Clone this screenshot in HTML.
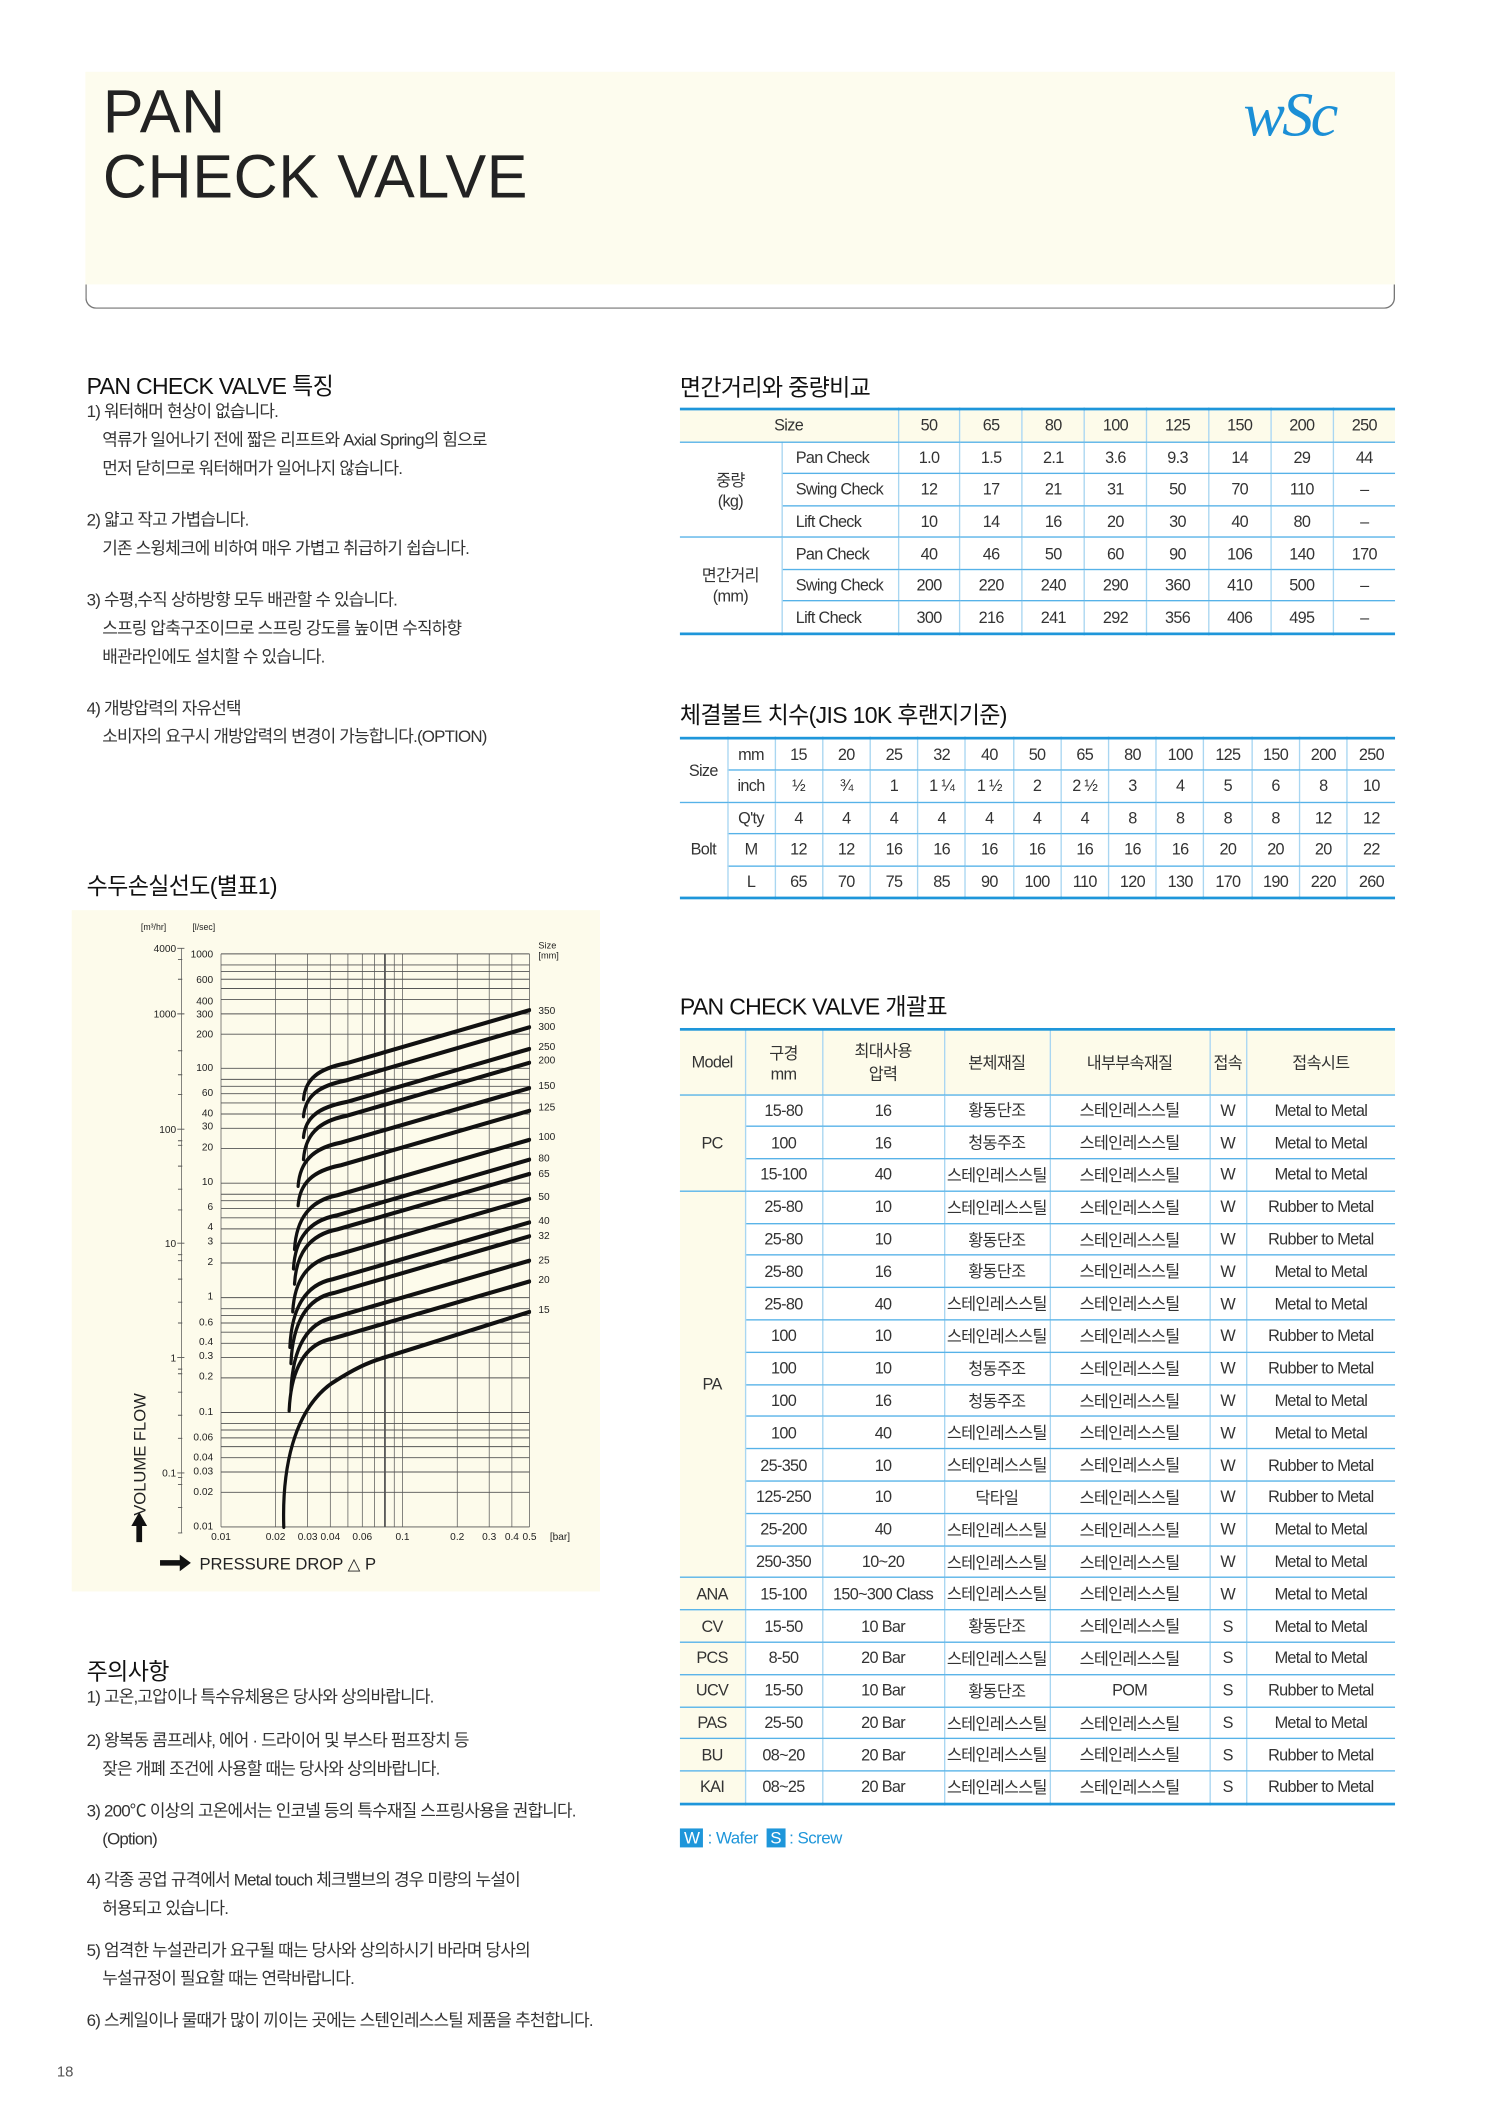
<!DOCTYPE html>
<html><head><meta charset="utf-8">
<style>
*{margin:0;padding:0;box-sizing:border-box}
html,body{width:1500px;height:2122px;background:#fff;overflow:hidden}
#w{position:absolute;left:0;top:0;width:1108px;height:1567px;transform:scale(1.3544);transform-origin:0 0;font-family:"Liberation Sans","Noto Sans CJK KR",sans-serif;color:#222}
.a{position:absolute;white-space:nowrap}
.h2{font-size:17px;color:#111;letter-spacing:-0.5px}
.p{font-size:12.5px;color:#333;letter-spacing:-0.6px;line-height:21px}
table.t{position:absolute;border-collapse:collapse;table-layout:fixed;font-size:12px;color:#333;text-align:center;letter-spacing:-0.5px;border-top:2.5px solid #1e96da;border-bottom:2.5px solid #1e96da}
.t td{border-top:1px solid #56b2e8;border-bottom:1px solid #56b2e8;border-left:1px solid #a9d6f1;border-right:1px solid #a9d6f1;padding:0;overflow:hidden;white-space:nowrap}
.t td.f{border-left:none}
.t td.l{border-right:none}
.t .c{background:#fdfbea}
.t td.s{text-align:left;padding-left:10px}
</style></head><body><div id="w">

<!-- header -->
<div class="a" style="left:63px;top:53px;width:967px;height:157px;background:#fdfcee"></div>
<div class="a" style="left:63px;top:210px;width:967px;height:18px;border:1px solid #777;border-top:none;border-radius:0 0 8px 8px"></div>
<div class="a" style="left:76px;top:59px;font-size:45px;line-height:48px;color:#222;letter-spacing:0.5px">PAN<br>CHECK VALVE</div>
<div class="a" style="left:918px;top:58px;font-family:'Liberation Serif',serif;font-style:italic;font-size:46px;color:#1b8fd6;letter-spacing:-2px">wSc</div>

<!-- left text -->
<div class="a h2" style="left:64px;top:271px">PAN CHECK VALVE 특징</div>
<div class="a p" style="left:64px;top:294px">1) 워터해머 현상이 없습니다.<br>&nbsp;&nbsp;&nbsp;&nbsp;역류가 일어나기 전에 짧은 리프트와 Axial Spring의 힘으로<br>&nbsp;&nbsp;&nbsp;&nbsp;먼저 닫히므로 워터해머가 일어나지 않습니다.</div>
<div class="a p" style="left:64px;top:374px">2) 얇고 작고 가볍습니다.<br>&nbsp;&nbsp;&nbsp;&nbsp;기존 스윙체크에 비하여 매우 가볍고 취급하기 쉽습니다.</div>
<div class="a p" style="left:64px;top:433px">3) 수평,수직 상하방향 모두 배관할 수 있습니다.<br>&nbsp;&nbsp;&nbsp;&nbsp;스프링 압축구조이므로 스프링 강도를 높이면 수직하향<br>&nbsp;&nbsp;&nbsp;&nbsp;배관라인에도 설치할 수 있습니다.</div>
<div class="a p" style="left:64px;top:513px">4) 개방압력의 자유선택<br>&nbsp;&nbsp;&nbsp;&nbsp;소비자의 요구시 개방압력의 변경이 가능합니다.(OPTION)</div>
<div class="a h2" style="left:64px;top:640px">수두손실선도(별표1)</div>

<!-- chart -->
<div class="a" style="left:53px;top:672px;width:390px;height:503px;background:#fdfbeb"></div>
<svg class="a" style="left:44px;top:660px" width="410.5" height="528" viewBox="0 0 1550 1550" preserveAspectRatio="none">
<g fill="none" stroke="#555" stroke-width="2">
<path d="M450,130H1310M450,154H1310M450,168H1310M450,185H1310M450,205H1310M450,229H1310M450,260H1310M450,304H1310M450,378H1310M450,402H1310M450,417H1310M450,433H1310M450,453H1310M450,477H1310M450,508H1310M450,552H1310M450,627H1310M450,651H1310M450,665H1310M450,682H1310M450,702H1310M450,726H1310M450,757H1310M450,800H1310M450,875H1310M450,899H1310M450,914H1310M450,930H1310M450,950H1310M450,974H1310M450,1005H1310M450,1049H1310M450,1124H1310M450,1148H1310M450,1162H1310M450,1179H1310M450,1198H1310M450,1222H1310M450,1253H1310M450,1297H1310M450,1372H1310"/>
<path d="M450,130V1372M602,130V1372M691.5,130V1372M754.7,130V1372M803.8,130V1372M843.9,130V1372M877.8,130V1372M933,130V1372M956,130V1372M1108.6,130V1372M1197.7,130V1372M1260.9,130V1372M1310,130V1372"/>
<path d="M907,130V1372" stroke-width="5"/>
<path d="M340,118V1385M328,118H348M328,260H348M328,510H348M328,757H348M328,1005H348M328,1255H348M330,142H342M330,185H342M330,340H342M330,392H342M330,435H342M330,535H342M330,545H342M330,590H342M330,640H342M330,685H342M330,782H342M330,795H342M330,835H342M330,885H342M330,930H342M330,1030H342M330,1040H342M330,1080H342M330,1130H342M330,1180H342M330,1265H342M330,1280H342M330,1330H342M330,1385H342"/>
</g>
<g fill="none" stroke="#111" stroke-width="9" stroke-linecap="round">
<path d="M680,445 C685,402 720,379 800,367 L1310,252"/>
<path d="M680,482 C685,439 720,416 800,404 L1310,289"/>
<path d="M680,527 C685,485 720,463 800,451 L1310,336"/>
<path d="M680,575 C685,523 720,493 800,481 L1310,366"/>
<path d="M665,633 C670,581 705,551 785,539 L1310,421"/>
<path d="M665,675 C670,627 705,600 785,588 L1310,470"/>
<path d="M655,770 C660,706 695,665 775,653 L1310,533"/>
<path d="M652,812 C657,749 692,709 772,697 L1310,576"/>
<path d="M655,845 C660,780 695,739 775,727 L1310,607"/>
<path d="M650,905 C655,838 690,795 770,783 L1310,661"/>
<path d="M642,982 C647,901 682,847 762,835 L1310,712"/>
<path d="M645,1017 C650,933 685,877 765,865 L1310,742"/>
<path d="M645,1077 C650,990 685,930 765,918 L1310,795"/>
<path d="M640,1120 C645,1034 680,976 760,964 L1310,840"/>
<path d="M625,1372 C620,1250 650,1120 760,1060 C820,1030 860,1015 905,1005 L1310,906"/>
</g>
<polygon points="222,1340 200,1370 214,1370 214,1405 230,1405 230,1370 244,1370" fill="#111"/>
<polygon points="280,1444 335,1444 335,1432 366,1450 335,1468 335,1456 280,1456" fill="#111"/>
<g transform="scale(1.286 1)" font-family="Liberation Sans,sans-serif" font-size="22" fill="#222">
<g text-anchor="end">
<text x="332.8" y="138">1000</text><text x="332.8" y="193">600</text><text x="332.8" y="240">400</text><text x="332.8" y="268">300</text><text x="332.8" y="311">200</text><text x="332.8" y="384">100</text><text x="332.8" y="438">60</text><text x="332.8" y="482">40</text><text x="332.8" y="511">30</text><text x="332.8" y="556">20</text><text x="332.8" y="631">10</text><text x="332.8" y="685">6</text><text x="332.8" y="728">4</text><text x="332.8" y="760">3</text><text x="332.8" y="804">2</text><text x="332.8" y="879">1</text><text x="332.8" y="935">0.6</text><text x="332.8" y="978">0.4</text><text x="332.8" y="1008">0.3</text><text x="332.8" y="1052">0.2</text><text x="332.8" y="1130">0.1</text><text x="332.8" y="1185">0.06</text><text x="332.8" y="1228">0.04</text><text x="332.8" y="1258">0.03</text><text x="332.8" y="1303">0.02</text><text x="332.8" y="1378">0.01</text>
<text x="252.7" y="126">4000</text><text x="252.7" y="268">1000</text><text x="252.7" y="518">100</text><text x="252.7" y="765">10</text><text x="252.7" y="1013">1</text><text x="252.7" y="1263">0.1</text>
</g>
<text x="203.7" y="78" text-anchor="middle" font-size="19">[m³/hr]</text>
<text x="312.6" y="78" text-anchor="middle" font-size="19">[l/sec]</text>
<g>
<text x="1038" y="118" font-size="20">Size</text><text x="1038" y="140" font-size="20">[mm]</text>
<text x="1038" y="260">350</text><text x="1038" y="295">300</text><text x="1038" y="338">250</text><text x="1038" y="368">200</text><text x="1038" y="423">150</text><text x="1038" y="470">125</text><text x="1038" y="533">100</text><text x="1038" y="580">80</text><text x="1038" y="614">65</text><text x="1038" y="663">50</text><text x="1038" y="716">40</text><text x="1038" y="748">32</text><text x="1038" y="801">25</text><text x="1038" y="843">20</text><text x="1038" y="908">15</text>
</g>
<g text-anchor="middle">
<text x="350" y="1400">0.01</text><text x="468.2" y="1400">0.02</text><text x="537.7" y="1400">0.03</text><text x="586.9" y="1400">0.04</text><text x="656.2" y="1400">0.06</text><text x="743.4" y="1400">0.1</text><text x="862" y="1400">0.2</text><text x="931.3" y="1400">0.3</text><text x="980.5" y="1400">0.4</text><text x="1018.7" y="1400">0.5</text><text x="1084.8" y="1400">[bar]</text>
</g>
<text x="303.3" y="1464" font-size="36">PRESSURE DROP △ P</text>
<text transform="translate(186,1215) rotate(-90)" text-anchor="middle" font-size="36">VOLUME FLOW</text>
</g>
</svg>

<!-- cautions -->
<div class="a h2" style="left:64px;top:1220px">주의사항</div>
<div class="a p" style="left:64px;top:1243px">1) 고온,고압이나 특수유체용은 당사와 상의바랍니다.</div>
<div class="a p" style="left:64px;top:1275px">2) 왕복동 콤프레샤, 에어 · 드라이어 및 부스타 펌프장치 등<br>&nbsp;&nbsp;&nbsp;&nbsp;잦은 개폐 조건에 사용할 때는 당사와 상의바랍니다.</div>
<div class="a p" style="left:64px;top:1327px">3) 200℃ 이상의 고온에서는 인코넬 등의 특수재질 스프링사용을 권합니다.<br>&nbsp;&nbsp;&nbsp;&nbsp;(Option)</div>
<div class="a p" style="left:64px;top:1378px">4) 각종 공업 규격에서 Metal touch 체크밸브의 경우 미량의 누설이<br>&nbsp;&nbsp;&nbsp;&nbsp;허용되고 있습니다.</div>
<div class="a p" style="left:64px;top:1430px">5) 엄격한 누설관리가 요구될 때는 당사와 상의하시기 바라며 당사의<br>&nbsp;&nbsp;&nbsp;&nbsp;누설규정이 필요할 때는 연락바랍니다.</div>
<div class="a p" style="left:64px;top:1482px">6) 스케일이나 물때가 많이 끼이는 곳에는 스텐인레스스틸 제품을 추천합니다.</div>
<div class="a" style="left:42px;top:1524px;font-size:11px;color:#555">18</div>

<!-- table 1 -->
<div class="a h2" style="left:502px;top:272px">면간거리와 중량비교</div>
<table class="t" style="left:502px;top:301px;width:528px">
<colgroup><col style="width:75px"><col style="width:86px"><col span="8" style="width:45.875px"></colgroup>
<tr style="height:24px" class="c"><td class="f c" colspan="2">Size</td><td>50</td><td>65</td><td>80</td><td>100</td><td>125</td><td>150</td><td>200</td><td class="l">250</td></tr>
<tr style="height:23.6px"><td class="f" rowspan="3">중량<br>(kg)</td><td class="s">Pan Check</td><td>1.0</td><td>1.5</td><td>2.1</td><td>3.6</td><td>9.3</td><td>14</td><td>29</td><td class="l">44</td></tr>
<tr style="height:23.6px"><td class="s">Swing Check</td><td>12</td><td>17</td><td>21</td><td>31</td><td>50</td><td>70</td><td>110</td><td class="l">–</td></tr>
<tr style="height:23.6px"><td class="s">Lift Check</td><td>10</td><td>14</td><td>16</td><td>20</td><td>30</td><td>40</td><td>80</td><td class="l">–</td></tr>
<tr style="height:23.6px"><td class="f" rowspan="3">면간거리<br>(mm)</td><td class="s">Pan Check</td><td>40</td><td>46</td><td>50</td><td>60</td><td>90</td><td>106</td><td>140</td><td class="l">170</td></tr>
<tr style="height:23.6px"><td class="s">Swing Check</td><td>200</td><td>220</td><td>240</td><td>290</td><td>360</td><td>410</td><td>500</td><td class="l">–</td></tr>
<tr style="height:23.6px"><td class="s">Lift Check</td><td>300</td><td>216</td><td>241</td><td>292</td><td>356</td><td>406</td><td>495</td><td class="l">–</td></tr>
</table>

<!-- table 2 -->
<div class="a h2" style="left:502px;top:514px">체결볼트 치수(JIS 10K 후랜지기준)</div>
<table class="t" style="left:502px;top:544px;width:528px">
<colgroup><col style="width:35px"><col style="width:35px"><col span="13" style="width:35.23px"></colgroup>
<tr style="height:23.5px"><td class="f" rowspan="2">Size</td><td>mm</td><td>15</td><td>20</td><td>25</td><td>32</td><td>40</td><td>50</td><td>65</td><td>80</td><td>100</td><td>125</td><td>150</td><td>200</td><td class="l">250</td></tr>
<tr style="height:23.5px"><td>inch</td><td>½</td><td>¾</td><td>1</td><td>1 ¼</td><td>1 ½</td><td>2</td><td>2 ½</td><td>3</td><td>4</td><td>5</td><td>6</td><td>8</td><td class="l">10</td></tr>
<tr style="height:23.5px"><td class="f" rowspan="3">Bolt</td><td>Q'ty</td><td>4</td><td>4</td><td>4</td><td>4</td><td>4</td><td>4</td><td>4</td><td>8</td><td>8</td><td>8</td><td>8</td><td>12</td><td class="l">12</td></tr>
<tr style="height:23.5px"><td>M</td><td>12</td><td>12</td><td>16</td><td>16</td><td>16</td><td>16</td><td>16</td><td>16</td><td>16</td><td>20</td><td>20</td><td>20</td><td class="l">22</td></tr>
<tr style="height:23.5px"><td>L</td><td>65</td><td>70</td><td>75</td><td>85</td><td>90</td><td>100</td><td>110</td><td>120</td><td>130</td><td>170</td><td>190</td><td>220</td><td class="l">260</td></tr>
</table>

<!-- table 3 -->
<div class="a h2" style="left:502px;top:729px">PAN CHECK VALVE 개괄표</div>
<table class="t" style="left:502px;top:759px;width:528px">
<colgroup><col style="width:48px"><col style="width:57px"><col style="width:90px"><col style="width:78px"><col style="width:118px"><col style="width:27px"><col style="width:110px"></colgroup>
<tr style="height:48px" class="c"><td class="f c">Model</td><td>구경<br>mm</td><td>최대사용<br>압력</td><td>본체재질</td><td>내부부속재질</td><td>접속</td><td class="l">접속시트</td></tr>
<tr style="height:23.8px"><td class="f c" rowspan="3">PC</td><td>15-80</td><td>16</td><td>황동단조</td><td>스테인레스스틸</td><td>W</td><td class="l">Metal to Metal</td></tr>
<tr style="height:23.8px"><td>100</td><td>16</td><td>청동주조</td><td>스테인레스스틸</td><td>W</td><td class="l">Metal to Metal</td></tr>
<tr style="height:23.8px"><td>15-100</td><td>40</td><td>스테인레스스틸</td><td>스테인레스스틸</td><td>W</td><td class="l">Metal to Metal</td></tr>
<tr style="height:23.8px"><td class="f c" rowspan="12">PA</td><td>25-80</td><td>10</td><td>스테인레스스틸</td><td>스테인레스스틸</td><td>W</td><td class="l">Rubber to Metal</td></tr>
<tr style="height:23.8px"><td>25-80</td><td>10</td><td>황동단조</td><td>스테인레스스틸</td><td>W</td><td class="l">Rubber to Metal</td></tr>
<tr style="height:23.8px"><td>25-80</td><td>16</td><td>황동단조</td><td>스테인레스스틸</td><td>W</td><td class="l">Metal to Metal</td></tr>
<tr style="height:23.8px"><td>25-80</td><td>40</td><td>스테인레스스틸</td><td>스테인레스스틸</td><td>W</td><td class="l">Metal to Metal</td></tr>
<tr style="height:23.8px"><td>100</td><td>10</td><td>스테인레스스틸</td><td>스테인레스스틸</td><td>W</td><td class="l">Rubber to Metal</td></tr>
<tr style="height:23.8px"><td>100</td><td>10</td><td>청동주조</td><td>스테인레스스틸</td><td>W</td><td class="l">Rubber to Metal</td></tr>
<tr style="height:23.8px"><td>100</td><td>16</td><td>청동주조</td><td>스테인레스스틸</td><td>W</td><td class="l">Metal to Metal</td></tr>
<tr style="height:23.8px"><td>100</td><td>40</td><td>스테인레스스틸</td><td>스테인레스스틸</td><td>W</td><td class="l">Metal to Metal</td></tr>
<tr style="height:23.8px"><td>25-350</td><td>10</td><td>스테인레스스틸</td><td>스테인레스스틸</td><td>W</td><td class="l">Rubber to Metal</td></tr>
<tr style="height:23.8px"><td>125-250</td><td>10</td><td>닥타일</td><td>스테인레스스틸</td><td>W</td><td class="l">Rubber to Metal</td></tr>
<tr style="height:23.8px"><td>25-200</td><td>40</td><td>스테인레스스틸</td><td>스테인레스스틸</td><td>W</td><td class="l">Metal to Metal</td></tr>
<tr style="height:23.8px"><td>250-350</td><td>10~20</td><td>스테인레스스틸</td><td>스테인레스스틸</td><td>W</td><td class="l">Metal to Metal</td></tr>
<tr style="height:23.8px"><td class="f c">ANA</td><td>15-100</td><td>150~300 Class</td><td>스테인레스스틸</td><td>스테인레스스틸</td><td>W</td><td class="l">Metal to Metal</td></tr>
<tr style="height:23.8px"><td class="f c">CV</td><td>15-50</td><td>10 Bar</td><td>황동단조</td><td>스테인레스스틸</td><td>S</td><td class="l">Metal to Metal</td></tr>
<tr style="height:23.8px"><td class="f c">PCS</td><td>8-50</td><td>20 Bar</td><td>스테인레스스틸</td><td>스테인레스스틸</td><td>S</td><td class="l">Metal to Metal</td></tr>
<tr style="height:23.8px"><td class="f c">UCV</td><td>15-50</td><td>10 Bar</td><td>황동단조</td><td>POM</td><td>S</td><td class="l">Rubber to Metal</td></tr>
<tr style="height:23.8px"><td class="f c">PAS</td><td>25-50</td><td>20 Bar</td><td>스테인레스스틸</td><td>스테인레스스틸</td><td>S</td><td class="l">Metal to Metal</td></tr>
<tr style="height:23.8px"><td class="f c">BU</td><td>08~20</td><td>20 Bar</td><td>스테인레스스틸</td><td>스테인레스스틸</td><td>S</td><td class="l">Rubber to Metal</td></tr>
<tr style="height:23.8px"><td class="f c">KAI</td><td>08~25</td><td>20 Bar</td><td>스테인레스스틸</td><td>스테인레스스틸</td><td>S</td><td class="l">Rubber to Metal</td></tr>
</table>

<div class="a" style="left:502px;top:1350px;font-size:12.5px;color:#1e96da;letter-spacing:-0.4px"><span style="background:#1e96da;color:#fff;padding:0 3px">W</span> : Wafer &nbsp;<span style="background:#1e96da;color:#fff;padding:0 3px">S</span> : Screw</div>

</div></body></html>
